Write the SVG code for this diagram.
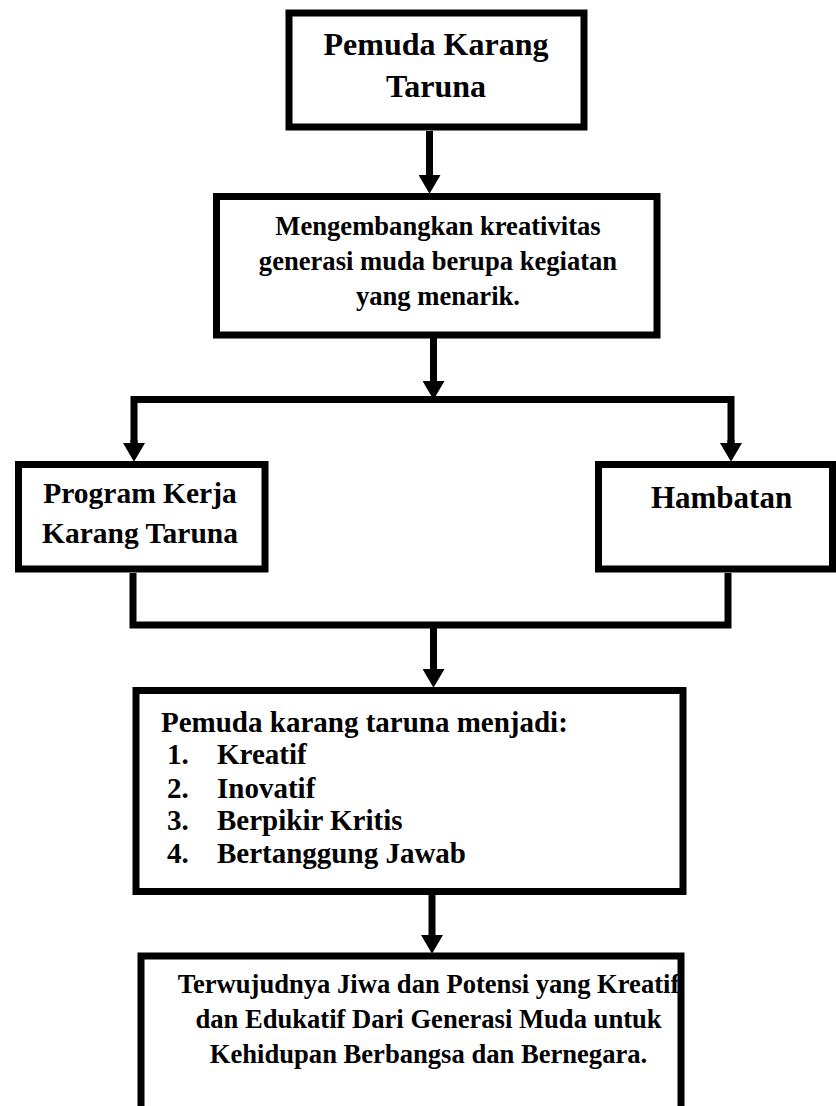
<svg xmlns="http://www.w3.org/2000/svg" width="836" height="1106" viewBox="0 0 836 1106">
  <style>
    .box { fill: #ffffff; stroke: #000000; stroke-width: 7; }
    .open { fill: none; stroke: #000000; stroke-width: 7; stroke-linejoin: miter; }
    .con { fill: none; stroke: #000000; stroke-width: 7; stroke-linejoin: miter; }
    text { font-family: "Liberation Serif", "Times New Roman", serif; font-weight: bold; fill: #000000; }
    .c { text-anchor: middle; }
    .l { font-size: 29px; }
  </style>
  <defs>
    <marker id="ah" markerUnits="userSpaceOnUse" markerWidth="20" markerHeight="22" refX="0" refY="10.5" orient="auto" viewBox="0 0 18 21">
      <path d="M0,0 L18,10.5 L0,21 Z" fill="#000000"/>
    </marker>
  </defs>

  <g id="connectors">
    <line class="con" x1="429.5" y1="131" x2="429.5" y2="175" marker-end="url(#ah)"/>
    <line class="con" x1="433.5" y1="338" x2="433.5" y2="381" marker-end="url(#ah)"/>
    <path class="con" d="M134,443 V399.5 H731 V443"/>
    <line class="con" x1="134" y1="440" x2="134" y2="443" marker-end="url(#ah)"/>
    <line class="con" x1="731" y1="440" x2="731" y2="443" marker-end="url(#ah)"/>
    <path class="con" d="M133,573 V625 H728 V573"/>
    <line class="con" x1="433.5" y1="625" x2="433.5" y2="669" marker-end="url(#ah)"/>
    <line class="con" x1="432" y1="895" x2="432" y2="935" marker-end="url(#ah)"/>
  </g>

  <g id="n1">
    <rect class="box" x="289" y="13" width="295" height="114"/>
    <text class="c" x="436" y="55" font-size="32">Pemuda Karang</text>
    <text class="c" x="436" y="97" font-size="32">Taruna</text>
  </g>

  <g id="n2">
    <rect class="box" x="216.5" y="196.5" width="440.5" height="138.5"/>
    <text class="c" x="438" y="235" font-size="26.6">Mengembangkan kreativitas</text>
    <text class="c" x="438" y="270" font-size="26.6">generasi muda berupa kegiatan</text>
    <text class="c" x="438" y="305" font-size="26.6">yang menarik.</text>
  </g>

  <g id="n3">
    <rect class="box" x="18.5" y="464.5" width="246.5" height="104.5"/>
    <text class="c" x="140" y="503" font-size="29.5">Program Kerja</text>
    <text class="c" x="140" y="543" font-size="29.5">Karang Taruna</text>
  </g>

  <g id="n4">
    <rect class="box" x="598.5" y="464.5" width="234" height="104.5"/>
    <text class="c" x="721.5" y="508" font-size="31">Hambatan</text>
  </g>

  <g id="n5">
    <rect class="box" x="136" y="690.5" width="547" height="201"/>
    <text class="l" x="161" y="732">Pemuda karang taruna menjadi:</text>
    <text class="l" x="167" y="764">1.</text>
    <text class="l" x="217" y="764">Kreatif</text>
    <text class="l" x="167" y="798">2.</text>
    <text class="l" x="217" y="798">Inovatif</text>
    <text class="l" x="167" y="830">3.</text>
    <text class="l" x="217" y="830">Berpikir Kritis</text>
    <text class="l" x="167" y="863">4.</text>
    <text class="l" x="217" y="863">Bertanggung Jawab</text>
  </g>

  <g id="n6">
    <path class="open" d="M141,1106 V956 H681 V1106"/>
    <text class="c" x="428.5" y="993" font-size="26.6">Terwujudnya Jiwa dan Potensi yang Kreatif</text>
    <text class="c" x="428.5" y="1028" font-size="26.6">dan Edukatif Dari Generasi Muda untuk</text>
    <text class="c" x="428.5" y="1063" font-size="26.6">Kehidupan Berbangsa dan Bernegara.</text>
  </g>
</svg>
